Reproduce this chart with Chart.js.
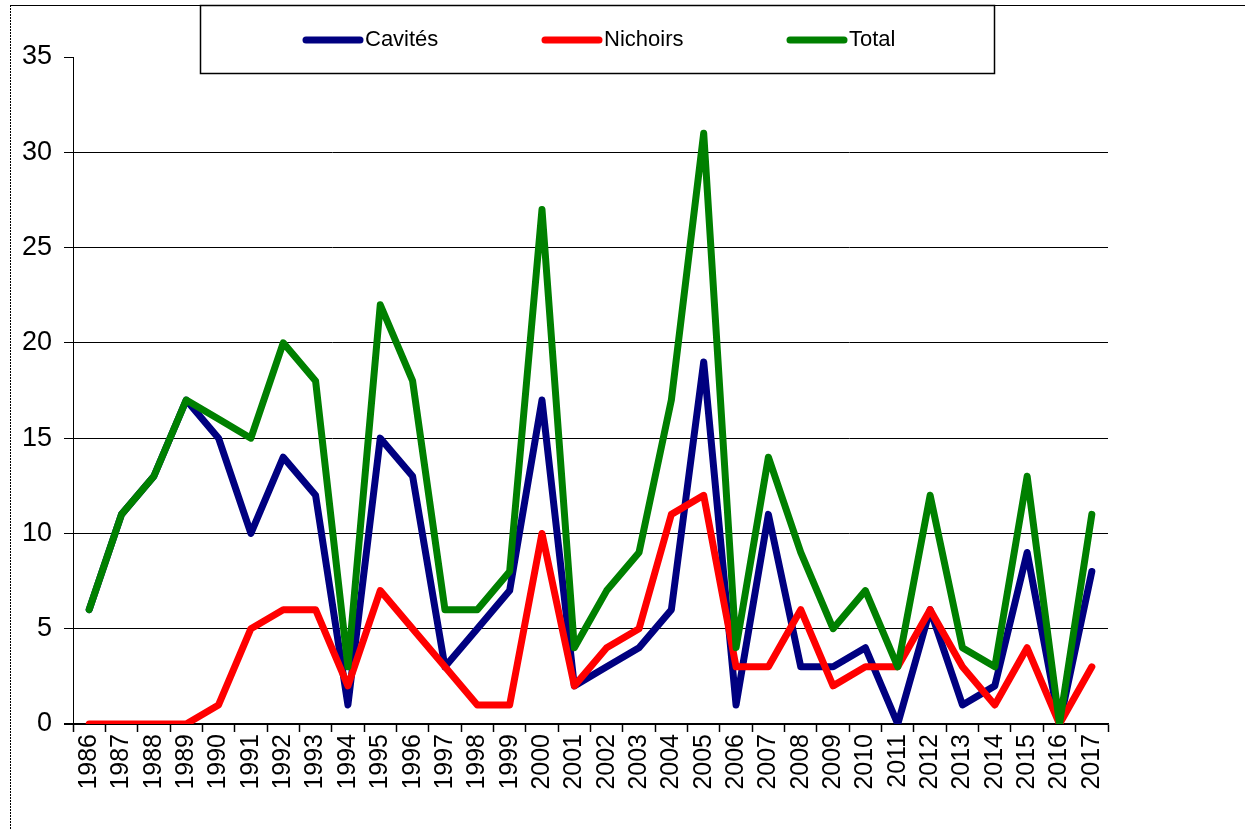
<!DOCTYPE html>
<html>
<head>
<meta charset="utf-8">
<script src="https://cdn.jsdelivr.net/npm/chart.js@4.4.1/dist/chart.umd.min.js"></script>
<style>
  html, body { margin: 0; padding: 0; background: #fff; }
  #wrap { width: 1245px; height: 829px; position: relative; }
</style>
</head>
<body>
<div id="wrap"><canvas id="chart"></canvas></div>
<script>
var years = ["1986","1987","1988","1989","1990","1991","1992","1993","1994","1995","1996","1997","1998","1999","2000","2001",
             "2002","2003","2004","2005","2006","2007","2008","2009","2010","2011","2012","2013","2014","2015","2016","2017"];
var cavites  = [6, 11, 13, 17, 15, 10, 14, 12, 1, 15, 13, 3, 5, 7, 17, 2, 3, 4, 6, 19, 1, 11, 3, 3, 4, 0, 6, 1, 2, 9, 0, 8];
var nichoirs = [0, 0, 0, 0, 1, 5, 6, 6, 2, 7, 5, 3, 1, 1, 10, 2, 4, 5, 11, 12, 3, 3, 6, 2, 3, 3, 6, 3, 1, 4, 0, 3];
var total    = [6, 11, 13, 17, 16, 15, 20, 18, 3, 22, 18, 6, 6, 8, 27, 4, 7, 9, 17, 31, 4, 14, 9, 5, 7, 3, 12, 4, 3, 13, 0, 11];
var yTicks = [0, 5, 10, 15, 20, 25, 30, 35];

// legend drawn by hand: bordered box at the top, sample line then label
var legendBox = {
    id: 'legendBox',
    afterDraw: function(chart){
        var ctx = chart.ctx;
        ctx.save();
        // frame lines of the original picture
        ctx.strokeStyle = '#000';
        ctx.lineWidth = 1;
        ctx.beginPath();
        ctx.moveTo(10, 5.5); ctx.lineTo(1245, 5.5);
        ctx.stroke();
        ctx.setLineDash([2, 1]);
        ctx.beginPath();
        ctx.moveTo(10.5, 5); ctx.lineTo(10.5, 829);
        ctx.stroke();
        ctx.setLineDash([]);
        ctx.lineWidth = 1.5;
        ctx.strokeRect(200.5, 5.5, 794, 68);

        var starts = [303, 542, 787];
        var ds = chart.data.datasets;
        ctx.font = '22px "Liberation Sans", Arial, sans-serif';
        ctx.textBaseline = 'middle';
        for (var i = 0; i < ds.length; i++){
            var x = starts[i];
            ctx.strokeStyle = ds[i].borderColor;
            ctx.lineWidth = 7;
            ctx.lineCap = 'round';
            ctx.beginPath();
            ctx.moveTo(x + 3, 40); ctx.lineTo(x + 57, 40);
            ctx.stroke();
            ctx.fillStyle = '#000';
            ctx.fillText(ds[i].label, x + 62, 40);
        }
        ctx.restore();
    }
};

new Chart(document.getElementById('chart'), {
    type: 'line',
    data: {
        labels: years,
        datasets: [
            { label: 'Cavités', data: cavites, borderColor: '#000080', order: 2 },
            { label: 'Nichoirs', data: nichoirs, borderColor: '#ff0000', order: 1 },
            { label: 'Total', data: total, borderColor: '#008000', order: 0 }
        ]
    },
    options: {
        responsive: true,
        maintainAspectRatio: false,
        animation: false,
        layout: { padding: { top: 57, right: 137, left: 0, bottom: 0 } },
        elements: {
            line: { borderWidth: 7, tension: 0, borderJoinStyle: 'round', borderCapStyle: 'round', fill: false },
            point: { radius: 0, hoverRadius: 0 }
        },
        plugins: {
            legend: { display: false },
            tooltip: { enabled: false }
        },
        scales: {
            x: {
                offset: true,
                grid: { offset: true, drawOnChartArea: false, color: '#000', tickLength: 8, tickWidth: 1.5 },
                border: { color: '#000', width: 1.5 },
                ticks: {
                    color: '#000',
                    font: { family: '"Liberation Sans", Arial, sans-serif', size: 25 },
                    minRotation: 90, maxRotation: 90, autoSkip: false, padding: 2
                },
                afterFit: function(scale){ scale.height = 105; }
            },
            y: {
                min: 0, max: 35,
                afterBuildTicks: function(scale){
                    scale.ticks = yTicks.map(function(v){ return { value: v }; });
                },
                grid: {
                    color: function(c){ return c.tick && c.tick.value === 35 ? 'rgba(0,0,0,0)' : '#000'; },
                    lineWidth: function(c){ return c.tick && c.tick.value === 0 ? 2 : 1; },
                    tickColor: '#000',
                    tickLength: 9
                },
                border: { color: '#000', width: 1 },
                ticks: {
                    color: '#000',
                    font: { family: '"Liberation Sans", Arial, sans-serif', size: 27 },
                    padding: 12
                },
                afterFit: function(scale){ scale.width = 73; }
            }
        }
    },
    plugins: [legendBox]
});
</script>
</body>
</html>
